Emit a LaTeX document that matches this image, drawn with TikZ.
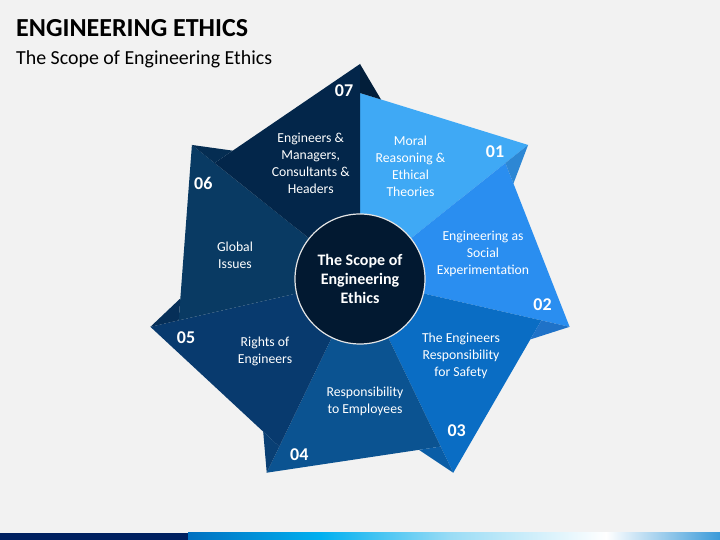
\documentclass[tikz,border=0pt]{standalone}
\usepackage{fontspec}
\setmainfont{Carlito}
\usetikzlibrary{calc}
\definecolor{bg}{HTML}{F2F2F2}
\definecolor{c1}{HTML}{3FA9F5}
\definecolor{c2}{HTML}{2A8EF0}
\definecolor{c3}{HTML}{0A6DC4}
\definecolor{c4}{HTML}{0B5391}
\definecolor{c5}{HTML}{083A6E}
\definecolor{c6}{HTML}{093A63}
\definecolor{c7}{HTML}{03264A}
\definecolor{f1}{HTML}{2D87D4}
\definecolor{f2}{HTML}{1F72C8}
\definecolor{f3}{HTML}{0A5DA6}
\definecolor{f4}{HTML}{093F74}
\definecolor{f5}{HTML}{062F58}
\definecolor{f6}{HTML}{052D52}
\definecolor{f7}{HTML}{021E3A}
\definecolor{hub}{HTML}{021931}
\definecolor{barnavy}{HTML}{002060}
\definecolor{bar0}{HTML}{0070C0}
\definecolor{bar1}{HTML}{00B0F0}
\definecolor{bar2}{HTML}{9ADCF5}
\definecolor{bar3}{HTML}{FFFFFF}
\definecolor{bar4}{HTML}{3A9AD9}
\begin{document}
\begin{tikzpicture}[x=1pt,y=1pt,
  segtext/.style={text=white, font=\fontsize{13.7}{17}\selectfont, align=center, inner sep=0pt},
  numtext/.style={text=white, font=\bfseries\fontsize{18}{20}\selectfont, inner sep=0pt},
  hubtext/.style={text=white, font=\bfseries\fontsize{16}{19}\selectfont, align=center, inner sep=0pt},
  barpiece/.style={draw=none}]
\fill[bg] (0,0) rectangle (720,540);
\useasboundingbox (0,0) rectangle (720,540);
% bottom bar
\fill[barnavy] (0,0) rectangle (188.5,7);
\shade[barpiece, left color=bar0, right color=bar1] (188,0) rectangle (320.5,7);
\shade[barpiece, left color=bar1, right color=bar2] (320,0) rectangle (450.5,7);
\shade[barpiece, left color=bar2, right color=bar3] (450,0) rectangle (606.5,7);
\shade[barpiece, left color=bar3, right color=bar4] (606,0) rectangle (720,7);
% title
\node[anchor=base west, inner sep=0pt, font=\bfseries\fontsize{26}{30}\selectfont] (title) at (16,503.5) {ENGINEERING ETHICS};
\node[anchor=base west, inner sep=0pt, font=\fontsize{19.9}{23}\selectfont] (subtitle) at (16,475) {The Scope of Engineering Ethics};
\begin{scope}[shift={(360,261)}]
\coordinate (O) at (0,0);
\foreach \i in {1,...,7} {
  \pgfmathsetmacro\sa{90-(\i-1)*360/7}
  \pgfmathsetmacro\ta{\sa-360/7}
  \coordinate (s\i) at (\sa:186);
  \coordinate (t\i) at (\ta:215);
}
\foreach \i in {1,...,7} {
  \fill[c\i] (O) -- (s\i) -- (t\i) -- cycle;
}
\foreach \i/\j in {1/2,2/3,3/4,4/5,5/6,6/7,7/1} {
  \fill[f\i] (t\i) -- (s\j) -- ($(s\j)!0.125!(t\j)$) -- cycle;
}
\node[circle, fill=hub, draw=white!80!gray, line width=1.2pt, minimum size=130pt, inner sep=0pt] (C) at (O) {};
\end{scope}
\node[hubtext] (hubt) at (360,261) {The Scope of\\Engineering\\Ethics};
\node[segtext] (T1) at (410.5,374) {Moral\\Reasoning \&\\Ethical\\Theories};
\node[numtext] (N1) at (495,388) {01};
\node[segtext] (T2) at (483,286.5) {Engineering as\\Social\\Experimentation};
\node[numtext] (N2) at (542.5,235.7) {02};
\node[segtext] (T3) at (461,184) {The Engineers\\Responsibility\\for Safety};
\node[numtext] (N3) at (456.7,109) {03};
\node[segtext] (T4) at (365,138.5) {Responsibility\\to Employees};
\node[numtext] (N4) at (299.3,85) {04};
\node[segtext] (T5) at (265,188.5) {Rights of\\Engineers};
\node[numtext] (N5) at (186,202.7) {05};
\node[segtext] (T6) at (235,285) {Global\\Issues};
\node[numtext] (N6) at (203.3,356.7) {06};
\node[segtext] (T7) at (310.7,377) {Engineers \&\\Managers,\\Consultants \&\\Headers};
\node[numtext] (N7) at (344,449) {07};
\end{tikzpicture}
\end{document}
